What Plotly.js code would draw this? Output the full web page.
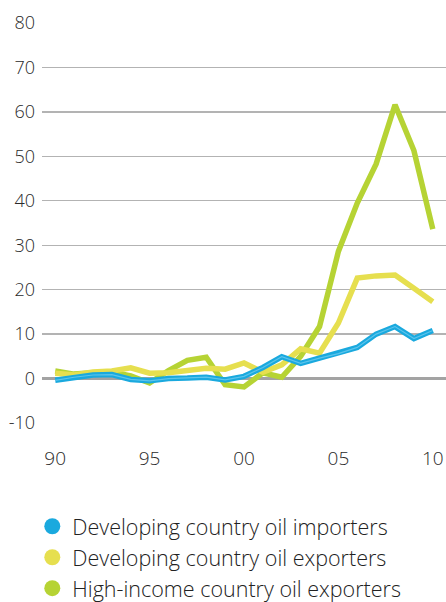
<!DOCTYPE html>
<html>
<head>
<meta charset="utf-8">
<script src="https://cdn.plot.ly/plotly-3.0.1.min.js"></script>
<style>html,body{margin:0;padding:0;background:#fff;}#chart{width:446px;height:602px;}</style>
</head>
<body>
<div id="chart"></div>
<script>
const years = [1990,1991,1992,1993,1994,1995,1996,1997,1998,1999,2000,2001,2002,2003,2004,2005,2006,2007,2008,2009,2010];
const importers = [-0.4,0.3,0.8,0.9,-0.2,-0.5,0.0,0.1,0.3,-0.3,0.5,2.5,4.9,3.4,4.6,5.6,7.0,10.0,11.7,9.0,10.8];
const devExporters = [1.2,0.8,1.5,1.7,2.4,1.2,1.3,1.8,2.3,2.1,3.5,1.4,3.1,6.7,5.7,12.5,22.6,23.1,23.3,20.3,17.3];
const hiExporters = [1.7,1.0,1.3,1.5,0.6,-1.0,1.8,4.1,4.8,-1.4,-1.9,1.3,0.3,5.0,11.7,28.6,39.5,48.3,61.6,51.3,33.6];
const seriesNames = ["Developing country oil importers","Developing country oil exporters","High-income country oil exporters"];
const xTickVals = [1990,1995,2000,2005,2010];
const xTickText = ["90","95","00","05","10"];
const yTickVals = [-10,0,10,20,30,40,50,60,70,80];
const yTickText = ["-10","0","10","20","30","40","50","60","70","80"];

const cBlue = "#1aa9de", cYellow = "#e6df4f", cGreen = "#b6d334";
const fontFam = "'Open Sans', Lato, sans-serif";

const traces = [
  {x: years, y: hiExporters, mode: "lines", line: {color: cGreen, width: 5.5}, showlegend: false, hoverinfo: "skip"},
  {x: years, y: devExporters, mode: "lines", line: {color: cYellow, width: 5.5}, showlegend: false, hoverinfo: "skip"},
  {x: years, y: importers, mode: "lines", line: {color: cBlue, width: 5.5}, showlegend: false, hoverinfo: "skip"},
  {x: years, y: importers, mode: "lines", line: {color: "#5cc4ec", width: 1.2}, showlegend: false, hoverinfo: "skip"},
  {x: [null], y: [null], mode: "markers", name: seriesNames[0], marker: {color: cBlue, size: 16, symbol: "circle"}},
  {x: [null], y: [null], mode: "markers", name: seriesNames[1], marker: {color: cYellow, size: 16, symbol: "circle"}},
  {x: [null], y: [null], mode: "markers", name: seriesNames[2], marker: {color: cGreen, size: 16, symbol: "circle"}}
];

const layout = {
  width: 446, height: 602,
  margin: {l: 42, r: 0, t: 23, b: 179, autoexpand: false},
  paper_bgcolor: "#fff", plot_bgcolor: "#fff",
  font: {family: fontFam, color: "#333", weight: 300},
  xaxis: {
    range: [1989.3, 2010.7],
    tickvals: xTickVals, ticktext: xTickText, tickangle: 0,
    showgrid: false, zeroline: false, showline: false, ticks: "",
    tickfont: {size: 19, family: fontFam, color: "#2a2a2a", weight: 300},
    ticklabelstandoff: 22, fixedrange: true, automargin: false
  },
  yaxis: {
    range: [-10, 80],
    tickvals: yTickVals, ticktext: yTickText,
    showgrid: true, gridcolor: "#b3b3b3", gridwidth: 1.3,
    zeroline: true, zerolinecolor: "#a3a3a3", zerolinewidth: 3,
    showline: false, ticks: "",
    tickfont: {size: 18, family: fontFam, color: "#2a2a2a", weight: 300},
    ticklabelstandoff: 6, fixedrange: true, automargin: false
  },
  legend: {
    orientation: "v",
    x: -0.024, y: -0.207, xanchor: "left", yanchor: "top",
    font: {size: 21.5, family: fontFam, color: "#222", weight: 300},
    itemsizing: "trace", tracegroupgap: 0,
    bgcolor: "rgba(0,0,0,0)"
  },
  showlegend: true
};

Plotly.newPlot("chart", traces, layout, {displayModeBar: false, staticPlot: true});
</script>
</body>
</html>
